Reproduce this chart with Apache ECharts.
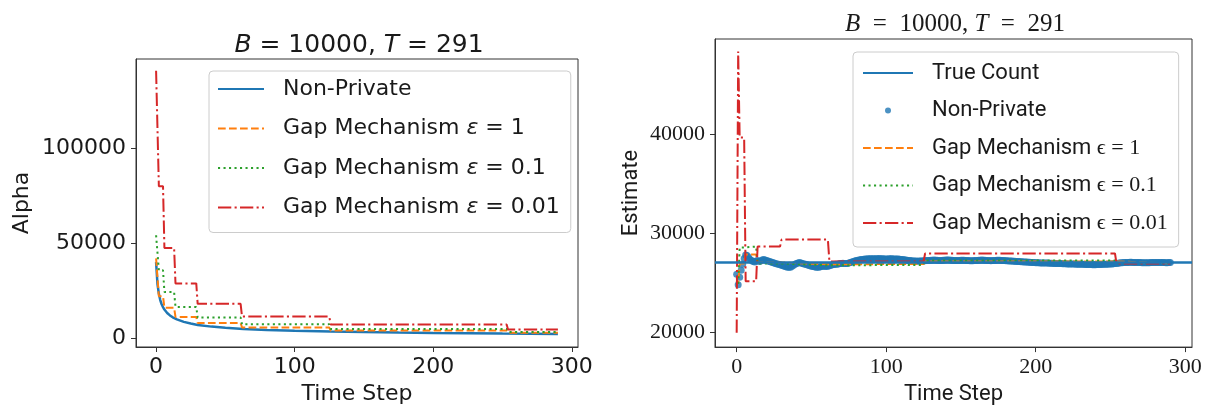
<!DOCTYPE html>
<html>
<head>
<meta charset="utf-8">
<script src="https://cdn.jsdelivr.net/npm/echarts@6/dist/echarts.min.js"></script>
<style>
  html, body { margin: 0; padding: 0; background: #ffffff; }
  #chart { width: 1208px; height: 410px; }
</style>
</head>
<body>
<div id="chart"></div>
<script>
// ---------------- data ----------------
const lastStep = 290;
const xTicks = [0, 100, 200, 300];
const alphaTicks = [0, 50000, 100000];
const estimateTicks = [20000, 30000, 40000];

// Alpha panel: non-private bound, sampled at these time steps
const alphaSampleSteps = [0, 1, 2, 3, 4, 5, 6, 8, 10, 12, 15, 20, 25, 30, 40, 50, 63, 80, 100, 126, 150, 175, 200, 225, 250, 270, 290];
const alphaNonPrivate  = [40000, 28500, 23300, 20000, 17800, 16300, 15000, 13200, 11900, 10900, 9800, 8500, 7600, 6900, 6000, 5400, 4800, 4250, 3800, 3400, 3100, 2850, 2650, 2500, 2350, 2250, 2150];

// Alpha panel: Gap Mechanism levels, each held from its start step to the next start
const alphaSegStarts = [0, 2, 6, 14, 30, 62, 126, 254];
const alphaGapEps1   = [42000, 22000, 16000, 11100, 7900, 5500, 3900, 2800];
const alphaGapEps01  = [54200, 35700, 24300, 16400, 10800, 7200, 4800, 3200];
const alphaGapEps001 = [141000, 80000, 47500, 28800, 18000, 11300, 7100, 4500];

// Estimate panel
const trueCount = 27090;
const estSegStarts = [0, 1, 2, 6, 14, 30, 62, 126, 254];
const estGapEps1   = [25500, 25000, 27000, 27900, 27100, 26900, 26950, 27200, 27000];
const estGapEps01  = [25200, 24800, 28600, 28700, 27000, 26800, 26850, 27300, 27050];
const estGapEps001 = [20000, 48400, 39700, 25200, 28700, 29400, 27200, 28000, 27000];

// Non-private running estimate, one value per time step 0..290
const estNonPrivate = [
  25900, 24850, 25600, 26300, 26900, 27500, 27850, 27800, 27600, 27400,
  27300, 27200, 27150, 27250, 27300, 27200, 27250, 27350, 27400, 27350,
  27300, 27250, 27200, 27150, 27100, 27050, 27000, 26950, 26900, 26850,
  26800, 26750, 26700, 26650, 26620, 26600, 26620, 26700, 26800, 26900,
  26980, 27050, 27080, 27050, 27000, 26950, 26900, 26850, 26800, 26750,
  26700, 26680, 26650, 26620, 26600, 26620, 26650, 26700, 26720, 26700,
  26680, 26700, 26750, 26800, 26850, 26880, 26900, 26920, 26950, 26980,
  27000, 27020, 27000, 26980, 27000, 27050, 27100, 27150, 27200, 27250,
  27300, 27320, 27350, 27380, 27400, 27420, 27450, 27450, 27460, 27470,
  27480, 27470, 27460, 27470, 27480, 27490, 27480, 27470, 27460, 27450,
  27440, 27450, 27460, 27470, 27460, 27450, 27440, 27450, 27440, 27420,
  27400, 27380, 27360, 27340, 27320, 27300, 27280, 27260, 27250, 27240,
  27230, 27220, 27230, 27240, 27250, 27260, 27270, 27280, 27290, 27300,
  27310, 27320, 27330, 27320, 27310, 27300, 27290, 27300, 27310, 27320,
  27330, 27340, 27330, 27320, 27310, 27300, 27290, 27280, 27290, 27300,
  27310, 27320, 27310, 27300, 27290, 27280, 27270, 27260, 27270, 27280,
  27290, 27300, 27310, 27320, 27330, 27320, 27310, 27300, 27290, 27280,
  27270, 27280, 27290, 27300, 27310, 27320, 27310, 27300, 27290, 27280,
  27270, 27260, 27250, 27240, 27230, 27220, 27210, 27200, 27190, 27180,
  27170, 27160, 27150, 27140, 27130, 27120, 27110, 27100, 27090, 27080,
  27070, 27060, 27060, 27050, 27050, 27040, 27040, 27030, 27030, 27020,
  27020, 27010, 27000, 27000, 26990, 26990, 26980, 26980, 26970, 26970,
  26960, 26950, 26950, 26940, 26940, 26930, 26930, 26920, 26920, 26910,
  26910, 26900, 26900, 26890, 26890, 26880, 26880, 26880, 26870, 26870,
  26870, 26880, 26880, 26890, 26890, 26900, 26900, 26910, 26920, 26930,
  26940, 26950, 26960, 26980, 27000, 27020, 27040, 27060, 27070, 27080,
  27090, 27100, 27100, 27110, 27110, 27100, 27100, 27090, 27090, 27080,
  27080, 27070, 27070, 27060, 27060, 27070, 27070, 27080, 27080, 27090,
  27090, 27100, 27100, 27090, 27090, 27080, 27080, 27070, 27070, 27080,
  27080
];

// ---------------- helpers ----------------
const C_BLUE = '#1f77b4', C_ORANGE = '#ff7f0e', C_GREEN = '#2ca02c', C_RED = '#d62728';
const DASHED = [7.7, 3.3], DOTTED = [2.1, 3.4], DASHDOT = [13.3, 3.3, 2.1, 3.3];
const SANS_L = 'DejaVu Sans';
const SANS_R = 'Roboto';
const SERIF_R = 'Liberation Serif';
const TEXT = '#1a1a1a';
const EN = '\u2002';

// piecewise-constant series: every level is held until the step before the next start
function stepPoints(starts, values) {
  const pts = [];
  starts.forEach((s, i) => {
    const end = i + 1 < starts.length ? starts[i + 1] - 1 : lastStep;
    pts.push([s, values[i]]);
    if (end > s) pts.push([end, values[i]]);
  });
  return pts;
}
const zip = (xs, ys) => xs.map((x, i) => [x, ys[i]]);

function lineSeries(name, grid, data, color, type, width) {
  return {
    name, type: 'line', xAxisIndex: grid, yAxisIndex: grid, data,
    showSymbol: false, symbol: 'none', animation: false, silent: true,
    lineStyle: { color, width, type, cap: 'butt' },
    itemStyle: { color }
  };
}

function valueAxis(gridIndex, min, max, ticks, font, name, nameGap, nameFont, isX) {
  return {
    type: 'value', gridIndex, min, max,
    name, nameLocation: 'middle', nameGap,
    nameTextStyle: { fontFamily: nameFont, fontSize: 22, color: TEXT },
    axisLine: { show: true, onZero: false, lineStyle: { color: '#333333', width: 1 } },
    axisTick: { show: true, length: 5, inside: false, customValues: ticks, lineStyle: { color: '#333333', width: 1 } },
    axisLabel: { show: true, customValues: ticks, margin: isX ? 9 : 10, fontFamily: font, fontSize: 22, color: TEXT,
                 formatter: v => String(v) },
    splitLine: { show: false }
  };
}

// legend entry for a line: handle shows the stroke only
const lineEntry = name => ({ name, itemStyle: { opacity: 0 } });

// ---------------- chart ----------------
const chart = echarts.init(document.getElementById('chart'), null, { renderer: 'canvas' });

const option = {
  animation: false,
  backgroundColor: '#ffffff',
  title: [
    {
      text: '{i|B} = 10000, {i|T} = 291', left: 354, top: 25, textAlign: 'center',
      textStyle: { fontFamily: SANS_L, fontSize: 25, lineHeight: 30, color: TEXT, fontWeight: 'normal',
        rich: { i: { fontFamily: SANS_L, fontStyle: 'italic', fontSize: 25, lineHeight: 30, color: TEXT } } }
    },
    {
      text: '{i|B}' + EN + '=' + EN + '10000, {i|T}' + EN + '=' + EN + '291', left: 950, top: 4, textAlign: 'center',
      textStyle: { fontFamily: SERIF_R, fontSize: 25, lineHeight: 30, color: TEXT, fontWeight: 'normal',
        rich: { i: { fontFamily: SERIF_R, fontStyle: 'italic', fontSize: 25, lineHeight: 30, color: TEXT } } }
    }
  ],
  grid: [
    { left: 136, top: 59, width: 442, height: 288, show: true, borderColor: '#333333', borderWidth: 1, containLabel: false },
    { left: 715, top: 39, width: 477, height: 311, show: true, borderColor: '#333333', borderWidth: 1, containLabel: false }
  ],
  xAxis: [
    valueAxis(0, -14.5, 304.5, xTicks, SANS_L, 'Time Step', 36, SANS_L, true),
    valueAxis(1, -14.5, 304.5, xTicks, SERIF_R, 'Time Step', 33, SANS_R, true)
  ],
  yAxis: [
    valueAxis(0, -4750, 147150, alphaTicks, SANS_L, 'Alpha', 103, SANS_L, false),
    valueAxis(1, 18546, 49658, estimateTicks, SERIF_R, 'Estimate', 73, SANS_R, false)
  ],
  legend: [
    {
      orient: 'vertical', left: 209, top: 71, selectedMode: false,
      data: ['Non-Private', 'Gap Mechanism ε = 1', 'Gap Mechanism ε = 0.1', 'Gap Mechanism ε = 0.01'].map(lineEntry),
      itemWidth: 46, itemHeight: 6, itemGap: 13.5,
      padding: [5, 11, 12, 8],
      backgroundColor: 'rgba(255,255,255,0.8)', borderColor: '#cccccc', borderWidth: 1, borderRadius: 4,
      formatter: n => n.replace('ε', '{e|ε}'),
      textStyle: { fontFamily: SANS_L, fontSize: 22, lineHeight: 26, color: TEXT, padding: [0, 0, 0, 14],
        rich: { e: { fontFamily: SANS_L, fontStyle: 'italic', fontSize: 22, lineHeight: 26, color: TEXT } } }
    },
    {
      orient: 'vertical', left: 853, top: 52, selectedMode: false,
      data: [
        lineEntry('True Count'),
        { name: 'Non-Private ' },
        lineEntry('Gap Mechanism ϵ = 1'),
        lineEntry('Gap Mechanism ϵ = 0.1'),
        lineEntry('Gap Mechanism ϵ = 0.01')
      ],
      itemWidth: 50, itemHeight: 6, itemGap: 11.5,
      padding: [8, 11, 11, 9],
      backgroundColor: 'rgba(255,255,255,0.8)', borderColor: '#cccccc', borderWidth: 1, borderRadius: 4,
      formatter: n => {
        const k = n.indexOf('ϵ');
        if (k < 0) return '{t|' + n.trim() + '}';
        return '{t|' + n.slice(0, k) + '}{m|' + n.slice(k) + '}';
      },
      textStyle: { fontFamily: SANS_R, fontSize: 22, lineHeight: 26, color: TEXT, padding: [0, 0, 0, 14],
        rich: {
          t: { fontFamily: SANS_R, fontSize: 22, lineHeight: 26, color: TEXT },
          m: { fontFamily: SERIF_R, fontSize: 22, lineHeight: 26, color: TEXT }
        } }
    }
  ],
  series: [
    // Alpha panel
    lineSeries('Non-Private', 0, zip(alphaSampleSteps, alphaNonPrivate), C_BLUE, 'solid', 2.5),
    lineSeries('Gap Mechanism ε = 1', 0, stepPoints(alphaSegStarts, alphaGapEps1), C_ORANGE, DASHED, 2),
    lineSeries('Gap Mechanism ε = 0.1', 0, stepPoints(alphaSegStarts, alphaGapEps01), C_GREEN, DOTTED, 2),
    lineSeries('Gap Mechanism ε = 0.01', 0, stepPoints(alphaSegStarts, alphaGapEps001), C_RED, DASHDOT, 2),

    // Estimate panel
    {
      name: 'True Count', type: 'line', xAxisIndex: 1, yAxisIndex: 1, data: [],
      symbol: 'none', animation: false, silent: true,
      lineStyle: { color: C_BLUE, width: 2.5 }, itemStyle: { color: C_BLUE },
      markLine: {
        symbol: 'none', silent: true, animation: false, label: { show: false },
        lineStyle: { color: C_BLUE, width: 2.5, type: 'solid' },
        data: [{ yAxis: trueCount }]
      }
    },
    {
      name: 'Non-Private ', type: 'scatter', xAxisIndex: 1, yAxisIndex: 1,
      data: estNonPrivate.map((v, t) => [t, v]),
      symbol: 'circle', symbolSize: 7, animation: false, silent: true,
      itemStyle: { color: C_BLUE }
    },
    lineSeries('Gap Mechanism ϵ = 1', 1, stepPoints(estSegStarts, estGapEps1), C_ORANGE, DASHED, 2),
    lineSeries('Gap Mechanism ϵ = 0.1', 1, stepPoints(estSegStarts, estGapEps01), C_GREEN, DOTTED, 2),
    lineSeries('Gap Mechanism ϵ = 0.01', 1, stepPoints(estSegStarts, estGapEps001), C_RED, DASHDOT, 2)
  ]
};

chart.setOption(option);
</script>
</body>
</html>
